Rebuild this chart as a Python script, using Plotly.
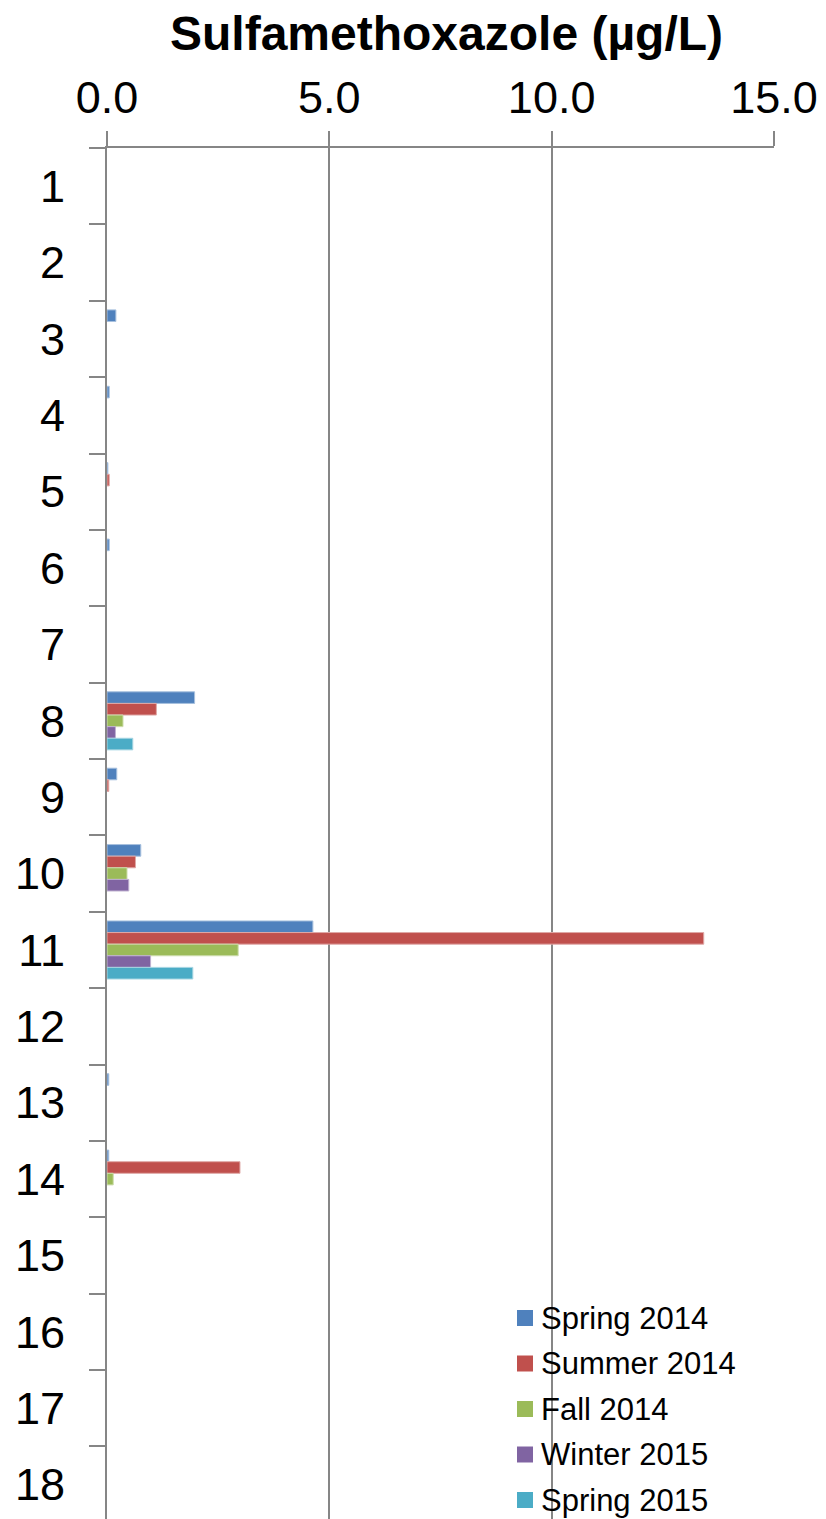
import plotly.graph_objects as go

categories = [str(i) for i in range(1, 19)]
series_names = ["Spring 2014", "Summer 2014", "Fall 2014", "Winter 2015", "Spring 2015"]
spring_2014 = [None, None, 0.20, 0.05, 0.02, 0.05, None, 1.97, 0.22, 0.76, 4.63, None, 0.04, 0.04, None, None, None, None]
summer_2014 = [None, None, None, None, 0.05, None, None, 1.11, 0.04, 0.64, 13.42, None, None, 2.99, None, None, None, None]
fall_2014 = [None, None, None, None, None, None, None, 0.36, None, 0.45, 2.95, None, None, 0.14, None, None, None, None]
winter_2015 = [None, None, None, None, None, None, None, 0.19, None, 0.49, 0.98, None, None, None, None, None, None, None]
spring_2015 = [None, None, None, None, None, None, None, 0.58, None, None, 1.93, None, None, None, None, None, None, None]
x_ticks = [0, 5, 10, 15]
x_tick_labels = ["0.0", "5.0", "10.0", "15.0"]

colors = ["#4F81BD", "#C0504D", "#9BBB59", "#8064A2", "#4BACC6"]
edges = ["#A7C0DE", "#DFA8A6", "#CDDDAC", "#BFB1D0", "#A5D5E2"]
all_values = [spring_2014, summer_2014, fall_2014, winter_2015, spring_2015]

W, H = 826, 1519
L, R, T, B = 107, 52, 148, 0
pw, ph = W - L - R, H - T - B

fig = go.Figure()
for name, vals, c, e in zip(series_names, all_values, colors, edges):
    fig.add_trace(go.Bar(
        y=categories, x=vals, name=name, orientation="h",
        marker=dict(color=c, line=dict(color=e, width=1)),
        showlegend=False,
    ))

# manual legend (positions in pixels converted to paper coords)
leg_x0, leg_y0, leg_dy, sq = 517, 1318, 45.5, 16
for i, (name, c) in enumerate(zip(series_names, colors)):
    cy = leg_y0 + i * leg_dy
    fig.add_shape(
        type="rect", xref="paper", yref="paper",
        x0=(leg_x0 - L) / pw, x1=(leg_x0 + sq - L) / pw,
        y0=(H - B - (cy - sq / 2)) / ph, y1=(H - B - (cy + sq / 2)) / ph,
        fillcolor=c, line=dict(width=0),
    )
    fig.add_annotation(
        xref="paper", yref="paper", x=(leg_x0 + sq + 6 - L) / pw,
        y=(H - B - cy) / ph, xanchor="left", yanchor="middle",
        text=name, showarrow=False, font=dict(size=31, color="black"),
    )

# title centred like the reference
fig.add_annotation(
    xref="paper", yref="paper", x=(446 - L) / pw, y=(H - B - 33) / ph,
    xanchor="center", yanchor="middle", showarrow=False,
    text="<b>Sulfamethoxazole (µg/L)</b>", font=dict(size=48, color="black"),
)

grid_col = "#868686"
fig.update_layout(
    width=W, height=H,
    margin=dict(l=L, r=R, t=T, b=B, pad=0, autoexpand=False),
    paper_bgcolor="white", plot_bgcolor="white",
    barmode="group", bargap=0.24, bargroupgap=0,
    font=dict(family="Liberation Sans, Arial", color="black"),
    showlegend=False,
    xaxis=dict(
        side="top", range=[0, 15], tickvals=x_ticks, ticktext=x_tick_labels,
        showgrid=True, gridcolor=grid_col, gridwidth=2,
        showline=True, linecolor=grid_col, linewidth=2,
        ticks="outside", ticklen=15, tickwidth=2, tickcolor=grid_col,
        tickfont=dict(size=45), zeroline=False, automargin=False,
    ),
    yaxis=dict(
        type="category", range=[17.45, -0.5],
        showline=True, linecolor=grid_col, linewidth=2,
        ticks="outside", ticklen=16, tickwidth=2, tickcolor=grid_col,
        tickson="boundaries", showgrid=False, automargin=False,
        tickfont=dict(size=45), ticklabelstandoff=31,
    ),
)

fig.write_html(
    "out.html",
    config={"displayModeBar": False},
    post_script="document.body.style.margin='0';document.body.style.padding='0';",
)
